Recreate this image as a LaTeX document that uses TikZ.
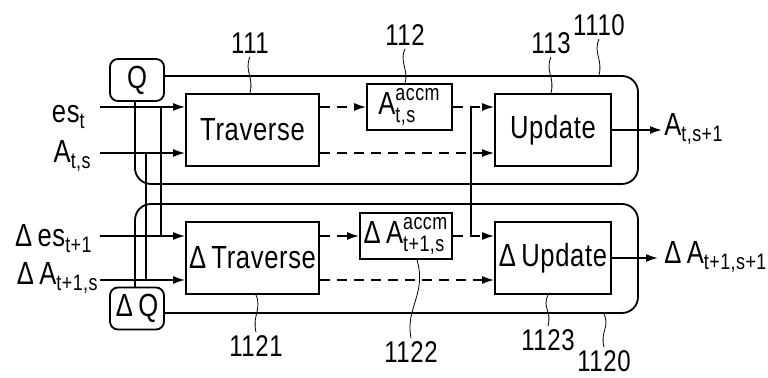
\documentclass[tikz,border=0pt]{standalone}
\usepackage{amsmath}
\usepackage{fontspec}
\setmainfont{Liberation Sans}[FakeStretch=0.8, LetterSpace=2]
\usetikzlibrary{positioning}
\usetikzlibrary{arrows.meta}
\usetikzlibrary{calc}
\newcommand{\figfont}{\fontsize{16}{18}\selectfont}
\newcommand{\numfont}{\fontsize{15}{17}\selectfont}
\tikzset{
  % a stage: the rounded frame round three blocks
  grp/.style={draw, line width=0.9pt, rounded corners=8pt,
    minimum width=251.5pt, minimum height=#1},
  % a queue that feeds a stage
  qbox/.style={draw, line width=0.9pt, fill=white, rounded corners=4pt,
    inner sep=0pt, font=\figfont, minimum width=27pt, minimum height=21pt},
  % a processing block
  blk/.style={draw, line width=0.9pt, fill=white, inner sep=0pt,
    font=\figfont, minimum height=36pt, minimum width=#1},
  % a small block holding an accumulated value
  accbox/.style={draw, line width=0.9pt, fill=white, inner sep=0pt,
    font=\figfont, minimum height=23pt, minimum width=#1},
  txt/.style={inner sep=0pt, font=\figfont},
  num/.style={inner sep=1.5pt, font=\numfont},
  % connections
  arr/.style={-{Latex[length=6pt,width=4pt]}, line width=0.8pt},
  darr/.style={arr, dash pattern=on 5pt off 3.5pt},
  link/.style={line width=0.8pt},
  lead/.style={line width=0.4pt},
}

\begin{document}
\begin{tikzpicture}[x=0.5pt, y=0.5pt]
\useasboundingbox (0,0) rectangle (768,-378);

% the two stages
\node[grp=54pt] (g1) at (386.5,-130) {};
\node[grp=54.5pt] (g2) at (386.5,-258.5) {};

% queues
\node[qbox] (q) at (137,-80) {Q};
\node[qbox] (dq) at (137,-308.5) {Δ\,Q};

% blocks
\node[blk=66.5pt] (trav) at (252.5,-130) {Traverse};
\node[accbox=42.5pt] (acc) at (409.5,-107) {$\text{A}^{\text{accm}}_{\text{t,s}}$};
\node[blk=58pt] (upd) at (553,-130) {Update};

\node[blk=66.5pt] (dtrav) at (252.5,-258) {Δ\,Traverse};
\node[accbox=46pt] (dacc) at (406,-236) {Δ\,$\text{A}^{\text{accm}}_{\text{t+1,s}}$};
\node[blk=58pt] (dupd) at (553,-258) {Δ\,Update};

% inputs
\coordinate (in1) at (100,-107);
\coordinate (in2) at (100,-153);
\coordinate (in3) at (100,-236);
\coordinate (in4) at (100,-280);
\node[txt, anchor=base east] (les) at (86,-123) {es$_\text{t}$};
\node[txt, anchor=base east] (la) at (92,-163) {A$_\text{t,s}$};
\node[txt, anchor=base east] (ldes) at (93,-247) {Δ\,es$_\text{t+1}$};
\node[txt, anchor=base east] (lda) at (99,-285) {Δ\,A$_\text{t+1,s}$};

\draw[arr] (in1) -- (in1 -| trav.west);
\draw[arr] (in2) -- (in2 -| trav.west);
\draw[arr] (in3) -- (in3 -| dtrav.west);
\draw[arr] (in4) -- (in4 -| dtrav.west);

% cross links between the stages
\coordinate (j1) at (161,-107);
\coordinate (j2) at (146,-153);
\coordinate (j3) at (471,-107);
\draw[link] (j1) -- (j1 |- in3);
\draw[link] (j2) -- (j2 |- in4);
\draw[link] (j3) -- (j3 |- dacc.east);

% data flow inside the stages
\draw[darr] (trav.east |- acc.west) -- (acc.west);
\draw[darr] (acc.east) -- (acc.east -| upd.west);
\draw[darr] (trav.east |- in2) -- (upd.west |- in2);
\draw[darr] (dtrav.east |- dacc.west) -- (dacc.west);
\draw[darr] (dacc.east) -- (dacc.east -| dupd.west);
\draw[darr] (dtrav.east |- in4) -- (dupd.west |- in4);

% outputs
\node[txt, anchor=base west] (oa) at (664,-136) {A$_\text{t,s+1}$};
\node[txt, anchor=base west] (oda) at (664,-264) {Δ\,A$_\text{t+1,s+1}$};
\draw[arr, shorten >=1pt] (upd.east) -- (upd.east -| oa.west);
\draw[arr, shorten >=3pt] (dupd.east) -- (dupd.east -| oda.west);

% reference numerals
\node[num] (l111) at (250,-43) {111};
\node[num] (l112) at (405,-35) {112};
\node[num] (l113) at (551,-43) {113};
\node[num] (l1110) at (599,-25) {1110};
\node[num] (l1121) at (256,-346) {1121};
\node[num] (l1122) at (411,-352) {1122};
\node[num] (l1123) at (548,-340) {1123};
\node[num] (l1120) at (604,-361) {1120};

\draw[lead] (l111.south) .. controls +(-6,-14) and +(4,16) .. (l111.south |- trav.north);
\draw[lead] (l112.south) .. controls +(-6,-12) and +(4,12) .. (l112.south |- acc.north);
\draw[lead] (l113.south) .. controls +(-6,-14) and +(4,16) .. (l113.south |- upd.north);
\draw[lead] (l1110.south) .. controls +(-6,-14) and +(4,16) .. (l1110.south |- g1.north);
\draw[lead] (l1121.north |- dtrav.south) .. controls +(6,-14) and +(-4,16) .. (l1121.north);
\draw[lead] ($(dacc.south)+(11,0)$) .. controls +(10,-34) and +(-6,30) .. (l1122.north);
\draw[lead] (l1123.north |- dupd.south) .. controls +(-6,-14) and +(4,16) .. (l1123.north);
\draw[lead] (l1120.north |- g2.south) .. controls +(6,-14) and +(-4,16) .. (l1120.north);

\end{tikzpicture}
\end{document}
